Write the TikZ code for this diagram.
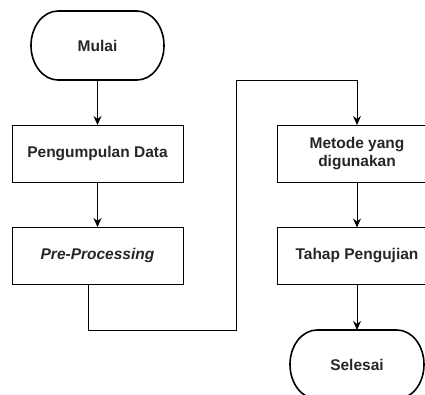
\documentclass[tikz,border=0pt]{standalone}
\usepackage{fontspec}
\setmainfont{Liberation Sans}
\usetikzlibrary{positioning, arrows.meta, calc}

% outline of a terminal node: flat top and bottom, half-ellipse ends
\newcommand{\terminalline}[1]{%
  \draw[line width=1.6pt] ([xshift=27pt]#1.north west) -- ([xshift=-27pt]#1.north east)
    arc[start angle=90, end angle=-90, x radius=27pt, y radius=34.5pt]
    -- ([xshift=27pt]#1.south west)
    arc[start angle=270, end angle=90, x radius=27pt, y radius=34.5pt] -- cycle;}

\begin{document}
\begin{tikzpicture}[
        x=1pt, y=-1pt,
        terminal/.style={rectangle, minimum width=133pt, minimum height=69pt, outer sep=0pt, align=center, font=\fontsize{15.5}{18}\selectfont\bfseries, text=black!85},
        process/.style={draw, rectangle, line width=1pt, minimum height=57pt, outer sep=0pt, align=center, font=\fontsize{15.5}{18}\selectfont\bfseries, text=black!85},
        arrow/.style={-{Stealth[length=9pt, width=8pt]}, line width=1pt}
    ]

    \useasboundingbox (0,0) rectangle (425,394);
    \clip (0,0) rectangle (425,394);

    % Left column
    \node[terminal] (mulai) at (97.5,45.5) {Mulai};
    \terminalline{mulai}
    \node[process, minimum width=171pt] (kumpul) at (97.5,153.5) {Pengumpulan Data};
    \node[process, minimum width=171pt] (prepro) at (97.5,255.5) {\itshape Pre-Processing};

    % Right column
    \node[process, minimum width=160pt] (metode) at (357,153.5) {Metode yang\\digunakan};
    \node[process, minimum width=160pt] (uji)    at (357,256)   {Tahap Pengujian};
    \node[terminal, minimum width=134pt] (selesai) at (357,364.5) {Selesai};
    \terminalline{selesai}

    % Bends of the connector between the columns
    \coordinate (bendA) at (236,330);
    \coordinate (bendB) at (357,80);

    % Arrows
    \draw[arrow] (mulai.south) -- (kumpul.north);
    \draw[arrow] (kumpul.south) -- (prepro.north);
    \draw[arrow] ([xshift=-9.5pt]prepro.south) |- (bendA) |- (bendB) -- (metode.north);
    \draw[arrow] (metode.south) -- (uji.north);
    \draw[arrow] (uji.south) -- (selesai.north);

\end{tikzpicture}
\end{document}
